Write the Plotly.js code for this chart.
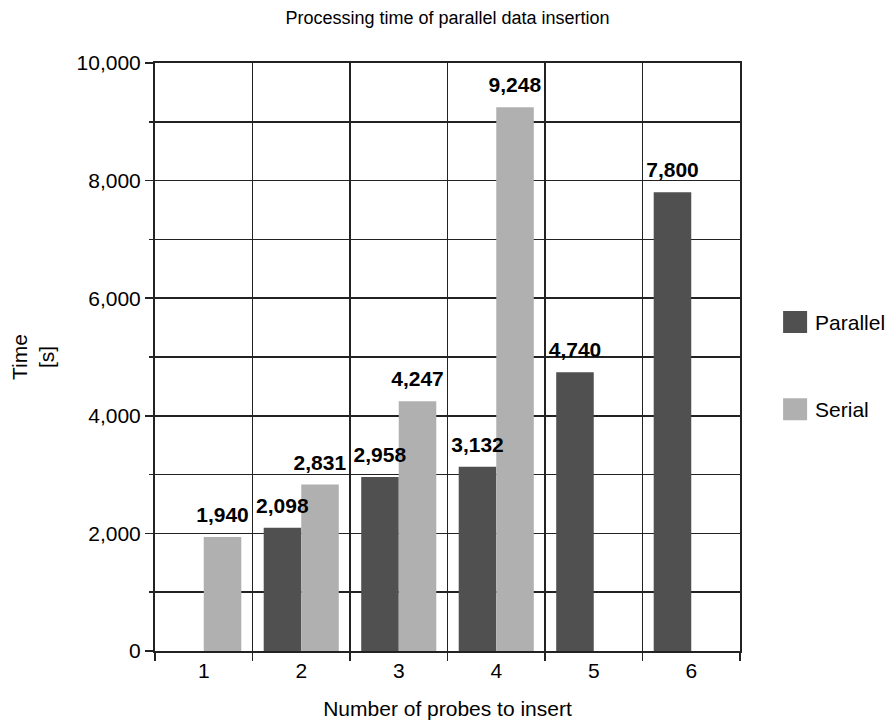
<!DOCTYPE html>
<html>
<head>
<meta charset="utf-8">
<script src="https://cdn.plot.ly/plotly-3.0.1.min.js"></script>
<style>
  html, body { margin: 0; padding: 0; background: #fff; }
  #chart { width: 893px; height: 722px; }
</style>
</head>
<body>
<div id="chart"></div>
<script>
// Number of probes inserted at once
const probes = ['1', '2', '3', '4', '5', '6'];
// Processing time in seconds (null where no run was made)
const parallelTime = [null, 2098, 2958, 3132, 4740, 7800];
const serialTime = [1940, 2831, 4247, 9248, null, null];

const yTickVals = [0, 2000, 4000, 6000, 8000, 10000];

const FONT = 'Liberation Sans, Arial, Helvetica, sans-serif';
const fmt = v => (v == null ? '' : v.toLocaleString('en-US'));

const labelFont = { family: FONT, size: 21, color: '#000', weight: 'bold' };

const traces = [
  {
    type: 'bar',
    name: 'Parallel',
    x: probes,
    y: parallelTime,
    marker: { color: '#505050', line: { width: 0 } },
    text: parallelTime.map(fmt),
    textposition: 'outside',
    constraintext: 'none',
    textfont: labelFont,
    cliponaxis: false,
    legendgroup: 'p',
    hoverinfo: 'x+y'
  },
  {
    type: 'bar',
    name: 'Serial',
    x: probes,
    y: serialTime,
    marker: { color: '#b0b0b0', line: { width: 0 } },
    text: serialTime.map(fmt),
    textposition: 'outside',
    constraintext: 'none',
    textfont: labelFont,
    cliponaxis: false,
    legendgroup: 's',
    hoverinfo: 'x+y'
  }
];

const layout = {
  width: 893,
  height: 722,
  margin: { l: 155, r: 153, t: 63, b: 71, autoexpand: false },
  paper_bgcolor: '#fff',
  plot_bgcolor: '#fff',
  font: { family: FONT, size: 21, color: '#000' },
  barmode: 'group',
  bargap: 0.23,
  bargroupgap: 0,
  title: {
    text: 'Processing time of parallel data insertion',
    font: { family: FONT, size: 18, color: '#000' },
    x: 0.5,
    xref: 'paper',
    y: 0.984,
    yref: 'container'
  },
  xaxis: {
    type: 'category',
    tickson: 'boundaries',
    ticks: 'outside',
    ticklen: 8,
    tickwidth: 1.5,
    tickcolor: '#222',
    showgrid: true,
    gridcolor: '#222',
    gridwidth: 1.5,
    showline: true,
    linecolor: '#222',
    linewidth: 2,
    mirror: true,
    tickfont: { family: FONT, size: 21, color: '#000' },
    title: {
      text: 'Number of probes to insert',
      font: { family: FONT, size: 21, color: '#000' },
      standoff: 20
    },
    fixedrange: true
  },
  yaxis: {
    range: [0, 10000],
    tickvals: yTickVals,
    tickformat: ',d',
    ticks: 'outside',
    ticklen: 8,
    tickwidth: 1.5,
    tickcolor: '#222',
    showgrid: true,
    gridcolor: '#222',
    gridwidth: 1.5,
    zeroline: false,
    showline: true,
    linecolor: '#222',
    linewidth: 2,
    mirror: true,
    minor: {
      dtick: 1000,
      ticks: 'outside',
      ticklen: 4,
      tickwidth: 1.5,
      tickcolor: '#222',
      showgrid: true,
      gridcolor: '#222',
      gridwidth: 1.5
    },
    tickfont: { family: FONT, size: 21, color: '#000' },
    title: {
      text: 'Time<br>[s]',
      font: { family: FONT, size: 21, color: '#000' },
      standoff: 16
    },
    fixedrange: true
  },
  showlegend: true,
  legend: {
    x: 1.06,
    xanchor: 'left',
    y: 0.485,
    yanchor: 'middle',
    font: { family: FONT, size: 21, color: '#000' },
    tracegroupgap: 57,
    traceorder: 'grouped',
    itemwidth: 30,
    bgcolor: 'rgba(0,0,0,0)'
  }
};

Plotly.newPlot('chart', traces, layout, { displayModeBar: false, staticPlot: true }).then(gd => {
  // Enlarge the legend swatches to square blocks
  gd.querySelectorAll('.legend .legendpoints path').forEach(p => {
    p.setAttribute('d', 'M12,11H-12V-11H12Z');
  });
  // Put all value labels on a layer above every bar, lifted a little
  const barLayer = gd.querySelector('.barlayer');
  if (barLayer) {
    const labelLayer = document.createElementNS('http://www.w3.org/2000/svg', 'g');
    labelLayer.setAttribute('class', 'bar-value-labels');
    barLayer.appendChild(labelLayer);
    gd.querySelectorAll('.barlayer .bartext').forEach(t => {
      const tr = t.getAttribute('transform') || '';
      t.setAttribute('transform', 'translate(0,-8) ' + tr);
      labelLayer.appendChild(t);
    });
  }
});
</script>
</body>
</html>
